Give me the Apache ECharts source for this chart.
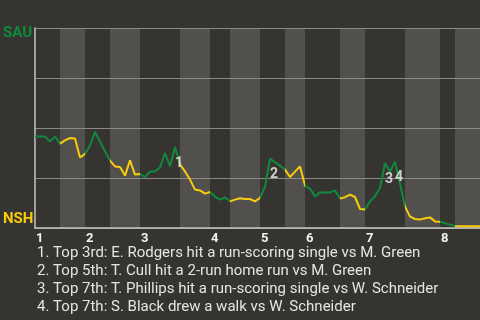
<!DOCTYPE html>
<html>
<head>
<meta charset="utf-8">
<script src="https://cdn.jsdelivr.net/npm/echarts@6/dist/echarts.min.js"></script>
<style>
html,body{margin:0;padding:0;background:#363430;}
#chart{width:480px;height:320px;}
</style>
</head>
<body>
<div id="chart"></div>
<script>
// Win probability for SAU (1 = SAU wins, 0 = NSH wins), one value per play
var winProb = [
  0.457,0.457,0.457,0.433,0.457,0.422,
  0.438,0.450,0.447,0.353,0.370,
  0.412,0.480,0.432,0.384,0.337,
  0.308,0.305,0.262,0.338,0.267,0.270,
  0.254,0.282,0.282,0.303,0.375,0.308,0.405,0.317,
  0.283,0.242,0.192,0.188,0.172,0.180,
  0.157,0.142,0.153,0.133,
  0.142,0.149,0.145,0.145,0.133,0.150,
  0.207,0.347,0.329,0.312,0.292,
  0.255,0.282,0.308,0.212,
  0.197,0.158,0.179,0.178,0.178,0.188,0.147,
  0.154,0.167,0.155,0.095,0.092,
  0.133,0.159,0.200,0.324,0.282,0.332,0.222,0.107,
  0.057,0.045,0.042,0.049,0.053,0.033,0.031,
  0.024,0.017,0.010,
  0.009,0.009,0.009,0.009,0.009
];
// half-inning boundaries (play index)
var topHalves = [[0,5],[10,15],[21,29],[35,39],[45,50],[54,61],[66,74],[81,84]];
var bottomHalves = [[5,10],[15,21],[29,35],[39,45],[50,54],[61,66],[74,81],[84,89]];
var innings = ['1','2','3','4','5','6','7','8'];
var inningStart = [0,10,21,35,45,54,66,81];
var eventPlays = [28,47,70,72];
var eventLabels = ['1','2','3','4'];
var notes = [
  '1. Top 3rd: E. Rodgers hit a run-scoring single vs M. Green',
  '2. Top 5th: T. Cull hit a 2-run home run vs M. Green',
  '3. Top 7th: T. Phillips hit a run-scoring single vs W. Schneider',
  '4. Top 7th: S. Black drew a walk vs W. Schneider'
];
var teams = {top: 'SAU', bottom: 'NSH'};

var GREEN = '#0f8a3c', YELLOW = '#f8cb0b';
var FONT = 'Roboto, "Noto Sans", sans-serif';

var lineData = winProb.map(function(v, i){ return [i, v]; });
var pieces = [];
topHalves.forEach(function(h){ pieces.push({gte:h[0], lt:h[1], color:GREEN}); });
bottomHalves.forEach(function(h, i){
  var p = {gte:h[0], color:YELLOW};
  if (i < bottomHalves.length - 1) p.lt = h[1]; else p.lte = h[1];
  pieces.push(p);
});
var eventData = eventPlays.map(function(x, i){ return {value:[x, winProb[x]], name:eventLabels[i]}; });
var maxX = winProb.length - 1;

var chart = echarts.init(document.getElementById('chart'), null, {renderer:'canvas'});
chart.setOption({
  backgroundColor: '#363430',
  animation: false,
  grid: {left:35, right:0, top:28, bottom:92, containLabel:false},
  xAxis: {
    type:'value', min:0, max:maxX, z:5,
    axisLine:{show:true, onZero:false, lineStyle:{color:'#c4c3c0', width:1.5}},
    axisTick:{show:false},
    splitLine:{show:false},
    axisLabel:{
      show:true, customValues: inningStart, align:'left', margin:4,
      padding:[0,0,0,1],
      color:'#f2f2f2', fontSize:13, fontWeight:'bold', fontFamily:FONT,
      formatter:function(v){ var k = inningStart.indexOf(v); return k >= 0 ? innings[k] : ''; }
    }
  },
  yAxis: {
    type:'value', min:0, max:1, interval:0.25, z:5,
    axisLine:{show:true, lineStyle:{color:'#c4c3c0', width:1.5}},
    axisTick:{show:false},
    axisLabel:{show:false},
    splitLine:{show:true, lineStyle:{color:'#8b8986', width:1}}
  },
  visualMap: {
    show:false, type:'piecewise', dimension:0, seriesIndex:1,
    pieces: pieces
  },
  series: [
    {
      type:'line', data:[], z:1, silent:true,
      markArea:{
        silent:true,
        itemStyle:{color:'#52504d'},
        data: bottomHalves.map(function(h){ return [{xAxis:h[0]},{xAxis:h[1]}]; })
      }
    },
    {
      type:'line', data:lineData, z:10, symbol:'none', smooth:false,
      lineStyle:{width:2}
    },
    {
      type:'scatter', data:eventData, z:11, symbolSize:1,
      itemStyle:{color:'rgba(0,0,0,0)'},
      label:{
        show:true, position:'inside', offset:[4,16],
        formatter:'{b}', color:'#f4f4f4', fontSize:14, fontWeight:'bold', fontFamily:FONT
      }
    }
  ],
  graphic: [
    {type:'text', left:3, top:26, style:{text:teams.top, fill:GREEN, font:'bold 15px ' + FONT}},
    {type:'text', left:3, top:212, style:{text:teams.bottom, fill:YELLOW, font:'bold 15px ' + FONT}},
    {type:'text', left:37, top:244, style:{text:notes.join('\n'), fill:'#e4e4e4', font:'15px ' + FONT, lineHeight:18}}
  ]
});
</script>
</body>
</html>
